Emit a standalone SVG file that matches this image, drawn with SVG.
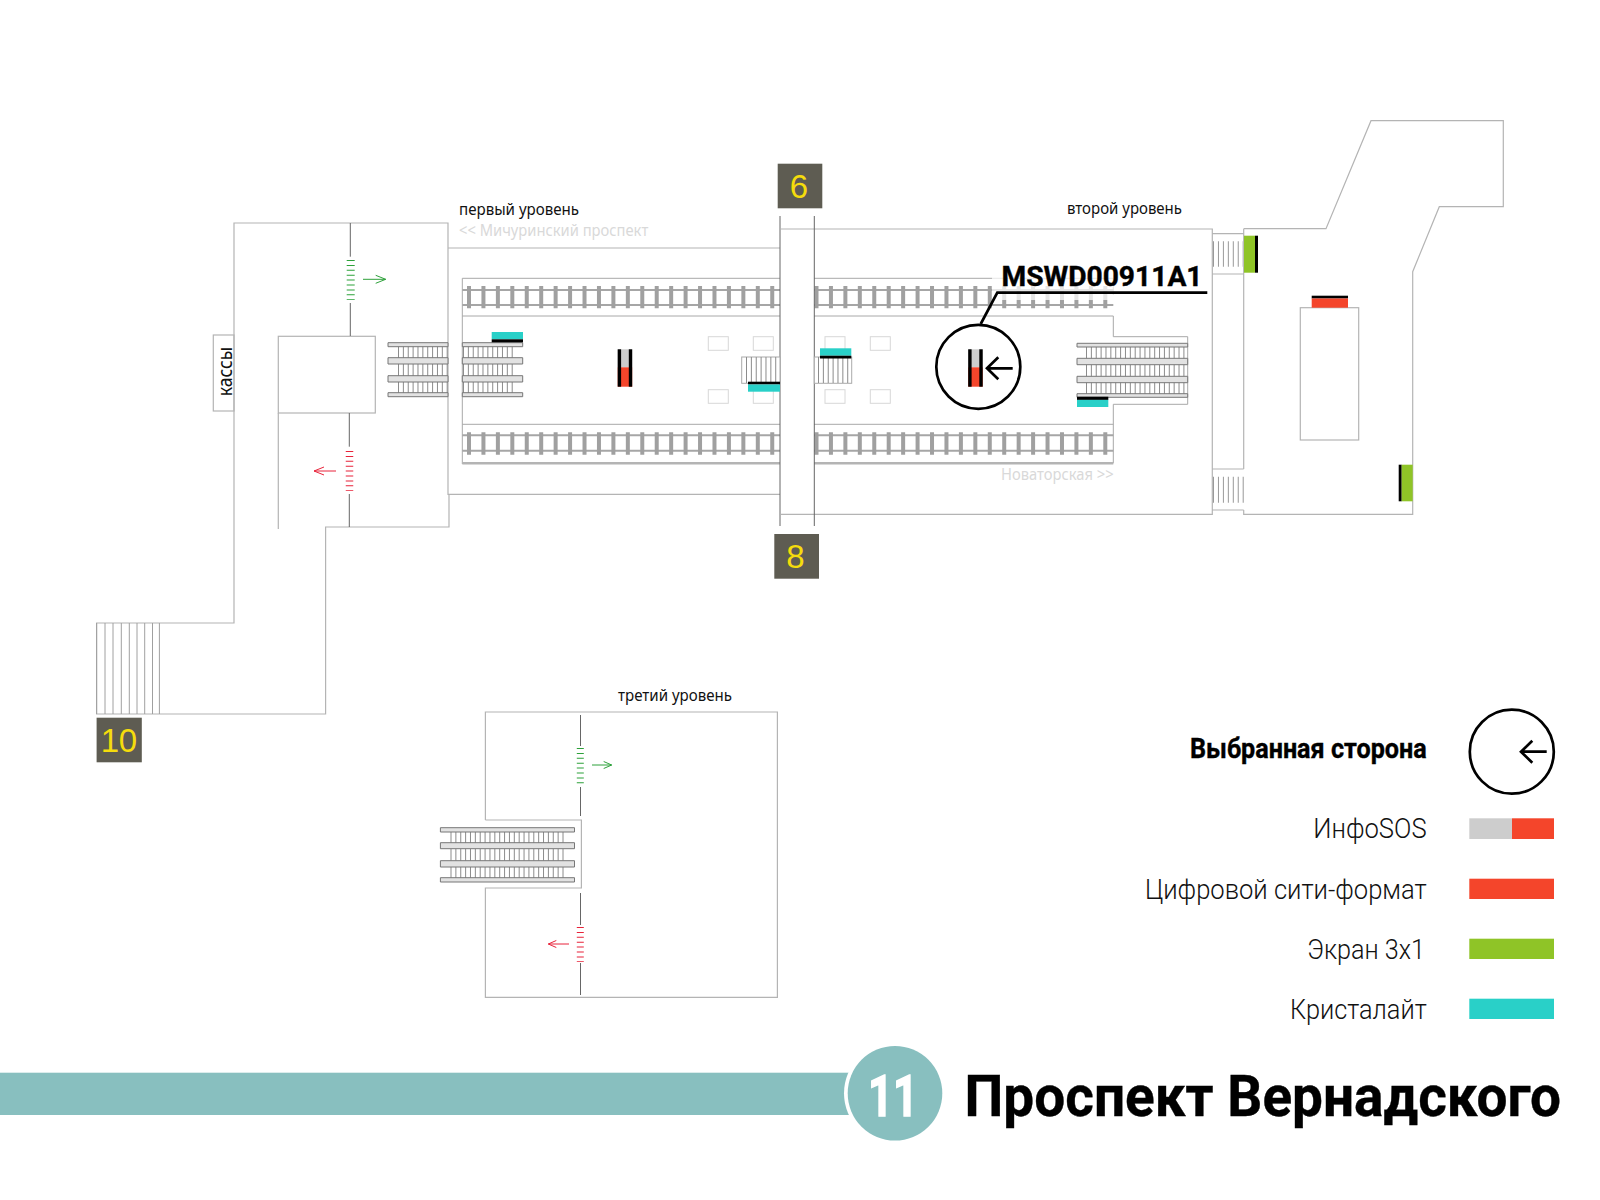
<svg xmlns="http://www.w3.org/2000/svg" xmlns:xlink="http://www.w3.org/1999/xlink" width="1600" height="1200" viewBox="0 0 1600 1200">
<style>
.w{fill:none;stroke:#b4b4b4;stroke-width:1.2}
.t{fill:none;stroke:#a8a8a8;stroke-width:1}
.c{fill:none;stroke:#666;stroke-width:1}
.r{fill:#fff;stroke:#d8d8d8;stroke-width:1}
.rail{fill:none;stroke:#a6a6a6;stroke-width:2}
.sl{fill:none;stroke:#a0a0a0;stroke-width:22.3;stroke-dasharray:4 10.44}
.st{fill:none;stroke:#8c8c8c;stroke-dasharray:1 3.87}
.hr{fill:#e2e2e2;stroke:#777;stroke-width:1}
.sm{font-family:"Noto Sans","Open Sans",sans-serif;font-size:16px;fill:#111}
.gr{font-family:"Noto Sans","Open Sans",sans-serif;font-size:16px;fill:#d9d9d9}
.no{font-family:"Liberation Sans",sans-serif;font-size:33px;fill:#f5dc0c}
.lg{font-family:Roboto,"Noto Sans",sans-serif;font-size:28px;font-weight:300;fill:#111}
.b{font-family:Roboto,"Noto Sans",sans-serif;font-weight:700;fill:#000;stroke:#000;stroke-width:.4}
.bx{fill:#5e5c52}
.red{fill:#f4452b}.grn{fill:#8fc427}.tl{fill:#29d0c8}.gy{fill:#cdcdcd}.k{fill:#000}
.ar{fill:none;stroke:#000;stroke-width:2.7}
</style>
<defs>
<g id="info"><rect class="gy" width="14.5" height="18"/><rect class="red" y="18" width="14.5" height="19.4"/><rect class="k" width="3.4" height="37.4"/><rect class="k" x="11.1" width="3.4" height="37.4"/></g>
</defs>
<g id="plan-walls">
<path class="w" d="M448 248V223H234V623H96.6V714H325.6V527H449V494.3M448 248V494.3H780M448 248H780"/>
<rect class="w" x="213.3" y="335" width="20.7" height="76"/>
<rect class="w" x="278.3" y="336.3" width="97" height="76.7"/>
<path class="w" d="M278.3 413V529"/>
<path class="w" d="M781 229H1212.3V514.3H781M1212.3 233.7H1243.7M1212.3 274H1243.7M1212.3 469H1243.7M1212.3 510H1243.7"/>
<path class="w" d="M1243.7 228.7H1326L1371 120.7H1503.3V206.7H1439.3L1412.7 271.7V514.3H1243.7V510M1243.7 469V228.7"/>
<rect class="w" x="1300.3" y="307.7" width="58.4" height="132.3"/>
<path class="w" d="M485.4 820V712H777.4V997.3H485.4V888H581.4V820H485.4"/>
<path class="t" d="M462.3 278.3V464M780 278.3H462.3M462.3 316H780M462.3 424.3H780M814 278.3H1113.3V295M814 316H1113.3V336.7H1187.7V404.3H1113.3V463.3M814 424.3H1113.3"/>
<path fill="none" stroke="#b4b4b4" stroke-width="2.4" d="M462.3 463.3H780M814 463.3H1113.3"/>
</g>
<g id="tracks">
<path class="rail" d="M462.3 290H780M462.3 305H780M462.3 435.3H780M462.3 450.7H780M814 290H1113.3M814 305H1113.3M814 435.3H1113.3M814 450.7H1113.3"/>
<path class="sl" d="M467 297.2H780M467 443.5H780M814.5 297.2H1113M814.5 443.5H1113"/>
<rect x="992" y="262" width="219" height="38" fill="#fff" fill-opacity=".72"/>
</g>
<g id="pillars">
<rect class="r" x="708.3" y="336.7" width="20" height="13.6"/><rect class="r" x="753.3" y="336.7" width="20" height="13.6"/><rect class="r" x="825" y="336.7" width="20" height="13.6"/><rect class="r" x="870.3" y="336.7" width="20" height="13.6"/>
<rect class="r" x="708.3" y="389.7" width="20" height="13.6"/><rect class="r" x="753.3" y="389.7" width="20" height="13.6"/><rect class="r" x="825" y="389.7" width="20" height="13.6"/><rect class="r" x="870.3" y="389.7" width="20" height="13.6"/>
</g>
<g id="passage-lines"><path class="c" d="M780 216V526M814.3 216V526"/></g>
<g id="stairs">
<path fill="none" stroke="#a0a0a0" d="M96.6 623V714M105 623V714M113 623V714M121.3 623V714M129.3 623V714M137 623V714M144.7 623V714M152.5 623V714M159.4 623V714"/>
<rect fill="#fff" stroke="#aaa" x="741.7" y="357" width="38.3" height="26.3"/>
<line class="st" x1="746" x2="780" y1="370" y2="370" stroke-width="26"/>
<rect fill="#fff" stroke="#aaa" x="814.3" y="357" width="37.4" height="26.3"/>
<line class="st" x1="818" x2="852" y1="370" y2="370" stroke-width="26"/>
<line x1="1213" x2="1243" y1="254" y2="254" stroke="#999" stroke-width="25.7" stroke-dasharray="1 3.95"/>
<line x1="1213" x2="1245" y1="489.7" y2="489.7" stroke="#999" stroke-width="26" stroke-dasharray="1 3.95"/>
</g>
<g id="escalators">
<g id="esc-1">
<path class="st" stroke-width="12" d="M398 352H448M398 370H448M398 388H448M463 352H512.7M463 370H512.7M463 388H512.7"/>
<path class="hr" d="M388 342.7H448V346.7H388ZM388 357.7H448V364H388ZM388 375.7H448V382H388ZM388 392.7H448V396.7H388ZM462.3 342.7H522.7V346.7H462.3ZM462.3 357.7H522.7V364H462.3ZM462.3 375.7H522.7V382H462.3ZM462.3 392.7H522.7V396.7H462.3Z"/>
</g>
<g id="esc-2">
<path class="st" stroke-width="12" d="M1086 353H1187M1086 370.5H1187M1086 388H1187"/>
<path class="hr" d="M1077 343.3H1187.7V347H1077ZM1077 358.3H1187.7V364.7H1077ZM1077 376.3H1187.7V382.7H1077ZM1077 393.7H1187.7V397.3H1077Z"/>
</g>
<g id="esc-3">
<path class="st" stroke-width="12" d="M450.5 837H564.4M450.5 854.7H564.4M450.5 872.5H564.4"/>
<path class="hr" d="M440.4 827.7H574.5V832H440.4ZM440.4 842.7H574.5V848.7H440.4ZM440.4 860.7H574.5V867H440.4ZM440.4 877.7H574.5V882H440.4Z"/>
</g>
</g>
<g id="flow-lines">
<path class="c" d="M350.3 223V256.7M350.3 303V336M349.3 413V446.7M349.3 494V527M580.5 715V746M580.5 787V816M580.5 893V925M580.5 963V995"/>
<g fill="none" stroke="#2da13a" stroke-width="1"><path stroke-dasharray="1 3.9" stroke-width="8" d="M350.7 260V300"/><path stroke-dasharray="1 3.9" stroke-width="7" d="M580.3 748V784"/><path d="M363 279.3H385.7M375.7 275.3L385.7 279.3L375.7 283.3M592 765H611.7M603.7 761.5L611.7 765L603.7 768.5"/></g>
<g fill="none" stroke="#e8233a" stroke-width="1"><path stroke-dasharray="1 3.9" stroke-width="7.5" d="M349.5 451V491"/><path stroke-dasharray="1 3.9" stroke-width="7" d="M580.3 927V962"/><path d="M336 471H314M324 467L314 471L324 475M569 944H548.3M556.3 940.5L548.3 944L556.3 947.5"/></g>
</g>
<g id="carriers">
<rect class="tl" x="491.7" y="332" width="31.3" height="7.3"/><rect class="k" x="491.7" y="339.3" width="31.3" height="3"/>
<use xlink:href="#info" href="#info" x="617.7" y="349.3"/>
<rect class="k" x="748" y="381.7" width="32" height="2.8"/><rect class="tl" x="748" y="384.5" width="32" height="7.2"/>
<rect class="tl" x="820" y="348.3" width="31.3" height="7.4"/><rect class="k" x="820" y="355.7" width="31.3" height="2.8"/>
<rect class="k" x="1077" y="396.7" width="31.3" height="3.2"/><rect class="tl" x="1077" y="399.9" width="31.3" height="7.1"/>
<rect class="grn" x="1244" y="235.7" width="11" height="37"/><rect class="k" x="1255" y="235.7" width="3" height="37"/>
<rect class="k" x="1311.7" y="295.7" width="36.3" height="2.8"/><rect class="red" x="1311.7" y="298.5" width="36.3" height="9.2"/>
<rect class="k" x="1398.7" y="464.7" width="3" height="36.6"/><rect class="grn" x="1401.7" y="464.7" width="11" height="36.6"/>
</g>
<g id="selected">
<circle class="ar" cx="978.3" cy="366.8" r="42"/>
<use xlink:href="#info" href="#info" x="968.2" y="349.3"/>
<path class="ar" d="M1012.7 368.3H987M998.3 357.3L987 368.3L998.3 379.3"/>
<path class="ar" d="M980.7 324L997.3 292.7H1207.3"/>
<text class="b" x="1001.5" y="286" font-size="28" textLength="201" lengthAdjust="spacingAndGlyphs">MSWD00911A1</text>
</g>
<g id="labels">
<text class="sm" x="459" y="215" textLength="120" lengthAdjust="spacingAndGlyphs">первый уровень</text>
<text class="gr" x="459" y="236" textLength="189.3" lengthAdjust="spacingAndGlyphs">&lt;&lt; Мичуринский проспект</text>
<text class="sm" x="1067" y="214.3" textLength="115" lengthAdjust="spacingAndGlyphs">второй уровень</text>
<text class="gr" x="1001" y="480" textLength="112.6" lengthAdjust="spacingAndGlyphs">Новаторская &gt;&gt;</text>
<text class="sm" x="618" y="701" textLength="114" lengthAdjust="spacingAndGlyphs">третий уровень</text>
<text class="sm" transform="translate(232 396.3) rotate(-90)" style="font-size:20px" textLength="49.5" lengthAdjust="spacingAndGlyphs">кассы</text>
</g>
<g id="exit-6"><rect class="bx" x="777.7" y="163.7" width="44.6" height="44.6"/><text class="no" x="799" y="197.7" text-anchor="middle">6</text></g>
<g id="exit-8"><rect class="bx" x="774.3" y="534" width="44.7" height="44.7"/><text class="no" x="795.4" y="567.7" text-anchor="middle">8</text></g>
<g id="exit-10"><rect class="bx" x="96.6" y="717.7" width="45.2" height="44.6"/><text class="no" x="118.7" y="751.7" text-anchor="middle" style="letter-spacing:-.5px">10</text></g>
<g id="legend">
<text class="b" x="1190" y="758.3" font-size="28" textLength="236.7" lengthAdjust="spacingAndGlyphs">Выбранная сторона</text>
<circle class="ar" cx="1511.8" cy="751.7" r="42"/>
<path class="ar" d="M1546.7 751.7H1521M1532.3 740.7L1521 751.7L1532.3 762.7"/>
<text class="lg" x="1313.3" y="838.3" textLength="113.3" lengthAdjust="spacingAndGlyphs">ИнфоSOS</text>
<rect class="gy" x="1469.3" y="818.3" width="42.7" height="20.7"/><rect class="red" x="1512" y="818.3" width="42" height="20.7"/>
<text class="lg" x="1145" y="899" textLength="281.7" lengthAdjust="spacingAndGlyphs">Цифровой сити-формат</text>
<rect class="red" x="1469.3" y="878.7" width="84.7" height="20.3"/>
<text class="lg" x="1307.3" y="959" textLength="117.7" lengthAdjust="spacingAndGlyphs">Экран 3х1</text>
<rect class="grn" x="1469.3" y="938.7" width="84.7" height="20.3"/>
<text class="lg" x="1290" y="1019" textLength="136.7" lengthAdjust="spacingAndGlyphs">Кристалайт</text>
<rect class="tl" x="1469.3" y="998.7" width="84.7" height="20.3"/>
</g>
<g id="title">
<rect x="0" y="1072.7" width="860" height="42.3" fill="#88bfbf"/>
<circle cx="895" cy="1093.3" r="51" fill="#fff"/>
<circle cx="895" cy="1093.3" r="47.3" fill="#88bfbf"/>
<text class="b" x="868" y="1116" font-size="58" style="fill:#fff;stroke:#fff;stroke-width:1.4" textLength="50" lengthAdjust="spacingAndGlyphs">11</text>
<text class="b" x="964.5" y="1116" font-size="58" textLength="596.5" lengthAdjust="spacingAndGlyphs">Проспект Вернадского</text>
</g>
</svg>
